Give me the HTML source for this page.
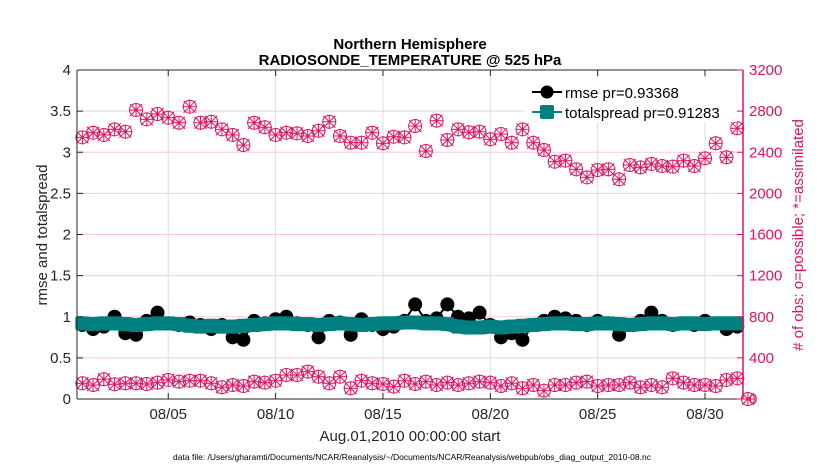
<!DOCTYPE html>
<html><head><meta charset="utf-8"><style>
body{margin:0;background:#fff}
svg{display:block;font-family:"Liberation Sans",sans-serif}
</style></head><body>
<svg id="c" width="830" height="470"></svg>
<script>
const obsPossible=[2545,2590,2568,2623,2600,2811,2720,2772,2736,2687,2843,2687,2697,2623,2568,2470,2687,2643,2568,2590,2584,2558,2609,2697,2558,2493,2493,2590,2487,2551,2545,2655,2412,2707,2519,2623,2594,2600,2526,2577,2493,2623,2493,2422,2308,2318,2234,2156,2227,2234,2137,2276,2253,2286,2266,2260,2318,2266,2341,2487,2351,2633];
const obsLower=[153,136,192,143,153,153,146,159,185,169,178,178,153,114,136,126,169,159,178,233,233,266,217,153,217,104,178,153,146,120,178,146,169,136,159,136,153,169,159,126,153,104,136,81,136,136,159,169,126,136,136,159,114,136,114,201,159,136,136,126,185,201,0];
const rmse=[0.9,0.85,0.88,1.0,0.8,0.78,0.95,1.05,0.92,0.9,0.93,0.9,0.85,0.9,0.75,0.72,0.95,0.92,0.97,1.0,0.92,0.9,0.75,0.95,0.93,0.78,0.97,0.9,0.85,0.88,0.95,1.15,0.95,0.98,1.15,1.0,0.98,1.05,0.9,0.75,0.8,0.72,0.9,0.95,1.0,0.98,0.95,0.9,0.95,0.92,0.78,0.9,0.95,1.05,0.95,0.9,0.92,0.9,0.95,0.92,0.85,0.88];
const spread=[0.92,0.91,0.92,0.92,0.91,0.9,0.91,0.92,0.92,0.91,0.89,0.88,0.89,0.88,0.88,0.89,0.9,0.91,0.92,0.92,0.91,0.91,0.9,0.91,0.92,0.91,0.9,0.91,0.92,0.92,0.93,0.93,0.92,0.92,0.91,0.88,0.87,0.87,0.88,0.87,0.88,0.89,0.9,0.91,0.92,0.92,0.91,0.91,0.92,0.92,0.91,0.9,0.91,0.92,0.92,0.91,0.92,0.92,0.91,0.92,0.92,0.92];
const leftTicks=["0","0.5","1","1.5","2","2.5","3","3.5","4"];
const rightTicks=["0","400","800","1200","1600","2000","2400","2800","3200"];
const dayTicks=[4,9,14,19,24,29];
const dayLabels=["08/05","08/10","08/15","08/20","08/25","08/30"];

const L=77,R=743,T=70,B=399,D0=-0.25,D1=30.77;
const xs=d=>L+(d-D0)/(D1-D0)*(R-L);
const yl=v=>B-v/4*(B-T);
const yr=v=>B-v/3200*(B-T);
const svg=document.getElementById('c');
const NS='http://www.w3.org/2000/svg';
function mk(tag,attrs,parent){const e=document.createElementNS(NS,tag);for(const k in attrs)e.setAttribute(k,attrs[k]);(parent||svg).appendChild(e);return e;}
const pink='#e0115f';
const grid=mk('g',{});


dayTicks.forEach(d=>{mk('line',{x1:xs(d),x2:xs(d),y1:T,y2:B,stroke:'#dcdcdc','stroke-width':1},grid);});
rightTicks.forEach((t,i)=>{if(i>0&&i<8)mk('line',{x1:L,x2:R,y1:yr(+t),y2:yr(+t),stroke:'#f6c9d8','stroke-width':1},grid);});
function star(g,x,y){mk('circle',{cx:x,cy:y,r:6.5,fill:'none',stroke:pink,'stroke-width':1},g);
 const p=[[0,-7,0,7],[-6,-6,6,6],[-6,6,6,-6],[-7,0,7,0]];p.forEach(a=>mk('line',{x1:x+a[0],y1:y+a[1],x2:x+a[2],y2:y+a[3],stroke:pink,'stroke-width':1},g));}
const gu=mk('g',{});


obsPossible.forEach((v,i)=>star(gu,xs(i*0.5),yr(v)));
const gl=mk('g',{});


obsLower.forEach((v,i)=>star(gl,xs(i*0.5),yr(v)));
const gr=mk('g',{});


mk('polyline',{points:rmse.map((v,i)=>xs(i*0.5)+','+yl(v)).join(' '),fill:'none',stroke:'#000','stroke-width':2},gr);
rmse.forEach((v,i)=>mk('circle',{cx:xs(i*0.5),cy:yl(v),r:7,fill:'#000'},gr));
const gs=mk('g',{});


mk('polyline',{points:spread.map((v,i)=>xs(i*0.5)+','+yl(v)).join(' '),fill:'none',stroke:'#008080','stroke-width':14},gs);
spread.forEach((v,i)=>mk('rect',{x:xs(i*0.5)-7,y:yl(v)-7,width:14,height:14,rx:2,fill:'#008080'},gs));
const ax=mk('g',{});


mk('line',{x1:L,x2:R,y1:B,y2:B,stroke:'#262626'},ax);
mk('line',{x1:L,x2:R,y1:T,y2:T,stroke:'#262626'},ax);
mk('line',{x1:L,x2:L,y1:T,y2:B,stroke:'#262626'},ax);
mk('line',{x1:R,x2:R,y1:T,y2:B,stroke:pink,'stroke-width':1.5},ax);
leftTicks.forEach(t=>{const y=yl(+t);mk('line',{x1:L,x2:L+6,y1:y,y2:y,stroke:'#262626'},ax);
 const e=mk('text',{x:L-6,y:y+5,'text-anchor':'end','font-size':15,fill:'#262626'},ax);e.textContent=t;});
rightTicks.forEach(t=>{const y=yr(+t);mk('line',{x1:R-6,x2:R,y1:y,y2:y,stroke:pink},ax);
 const e=mk('text',{x:R+6,y:y+5,'font-size':15,fill:pink},ax);e.textContent=t;});
dayTicks.forEach((d,i)=>{const x=xs(d);mk('line',{x1:x,x2:x,y1:B-6,y2:B,stroke:'#262626'},ax);mk('line',{x1:x,x2:x,y1:T,y2:T+6,stroke:'#262626'},ax);
 const e=mk('text',{x:x,y:B+20,'text-anchor':'middle','font-size':15,fill:'#262626'},ax);e.textContent=dayLabels[i];});
</script>
<svg width="830" height="470" style="position:absolute;left:0;top:0;font-family:'Liberation Sans',sans-serif">
<text x="410" y="49" text-anchor="middle" font-size="15" font-weight="bold">Northern Hemisphere</text>
<text x="410" y="65" text-anchor="middle" font-size="15" font-weight="bold">RADIOSONDE_TEMPERATURE @ 525 hPa</text>
<text transform="translate(47,235) rotate(-90)" text-anchor="middle" font-size="15" fill="#262626">rmse and totalspread</text>
<text transform="translate(803,235) rotate(-90)" text-anchor="middle" font-size="15" fill="#e0115f"># of obs: o=possible; *=assimilated</text>
<text x="410" y="441" text-anchor="middle" font-size="15" fill="#262626">Aug.01,2010 00:00:00 start</text>
<text x="412" y="460" text-anchor="middle" font-size="8.5" fill="#000">data file: /Users/gharamti/Documents/NCAR/Reanalysis/~/Documents/NCAR/Reanalysis/webpub/obs_diag_output_2010-08.nc</text>
<g>
<rect x="525" y="78" width="212" height="44" fill="#fff"/>
<line x1="532" x2="562" y1="92" y2="92" stroke="#000" stroke-width="2"/>
<circle cx="547" cy="92" r="6.5" fill="#000"/>
<text x="565" y="98" font-size="15">rmse pr=0.93368</text>
<line x1="532" x2="562" y1="112" y2="112" stroke="#008080" stroke-width="2"/>
<rect x="540" y="105" width="14" height="14" rx="2" fill="#008080"/>
<text x="565" y="118" font-size="15">totalspread pr=0.91283</text>
</g>
</svg>
</body></html>
